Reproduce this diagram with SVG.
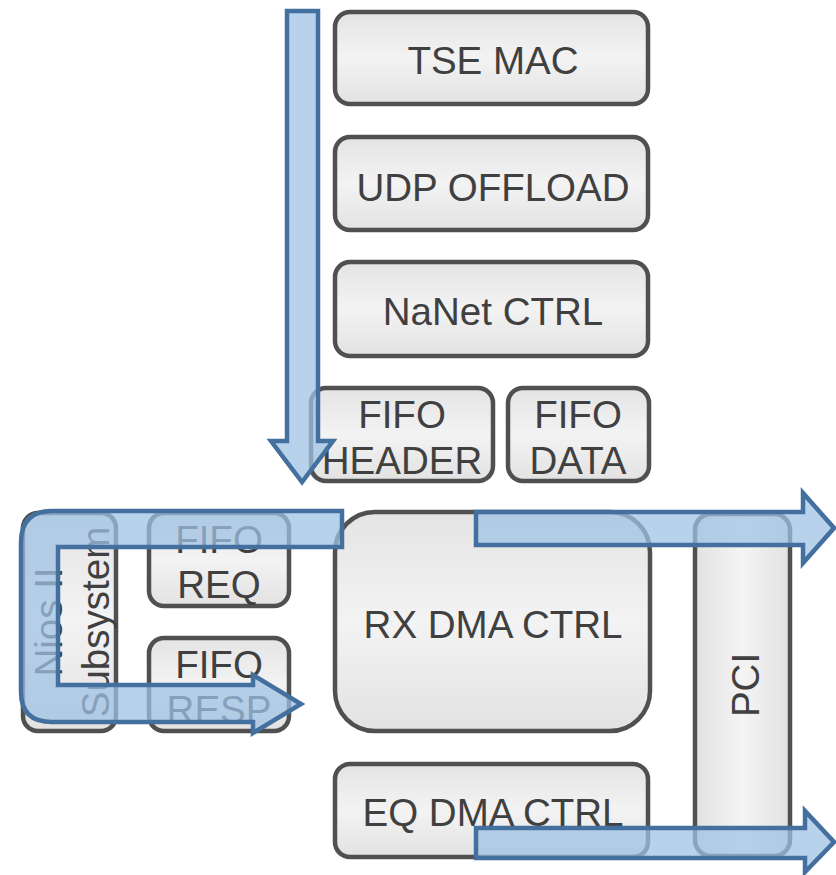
<svg xmlns="http://www.w3.org/2000/svg" width="836" height="875" viewBox="0 0 836 875">
  <defs>
    <linearGradient id="gv" x1="0" y1="0" x2="0" y2="1">
      <stop offset="0" stop-color="#e4e4e4"/>
      <stop offset="0.5" stop-color="#f3f3f3"/>
      <stop offset="1" stop-color="#e2e2e2"/>
    </linearGradient>
    <linearGradient id="gh" x1="0" y1="0" x2="1" y2="0">
      <stop offset="0" stop-color="#e2e2e2"/>
      <stop offset="0.5" stop-color="#f4f4f4"/>
      <stop offset="1" stop-color="#e2e2e2"/>
    </linearGradient>
    <style>
      .box { fill: url(#gv); stroke: #505050; stroke-width: 4.5; }
      .boxh { fill: url(#gh); stroke: #505050; stroke-width: 4.5; }
      .lbl { font-family: "Liberation Sans", Arial, sans-serif; font-size: 38.5px; fill: #404040; text-anchor: middle; }
      .flow { fill: #a0c2e6; fill-opacity: 0.74; stroke: #44709f; stroke-width: 4.5; stroke-linejoin: miter; }
    </style>
  </defs>
  <rect width="836" height="875" fill="#ffffff"/>

  <g id="tse-mac">
    <rect class="box" x="335" y="12" width="313" height="92" rx="15"/>
    <text class="lbl" x="493" y="74">TSE MAC</text>
  </g>
  <g id="udp-offload">
    <rect class="box" x="335" y="137" width="313" height="93" rx="15"/>
    <text class="lbl" x="493" y="201">UDP OFFLOAD</text>
  </g>
  <g id="nanet-ctrl">
    <rect class="box" x="335" y="262" width="313" height="94" rx="15"/>
    <text class="lbl" x="493" y="325">NaNet CTRL</text>
  </g>
  <g id="fifo-header">
    <rect class="box" x="311" y="388" width="182" height="93" rx="15"/>
    <text class="lbl" x="402" y="428">FIFO</text>
    <text class="lbl" x="402" y="474">HEADER</text>
  </g>
  <g id="fifo-data">
    <rect class="box" x="508" y="388" width="141" height="93" rx="15"/>
    <text class="lbl" x="578" y="428">FIFO</text>
    <text class="lbl" x="578" y="474">DATA</text>
  </g>
  <g id="nios-subsystem">
    <rect class="box" x="23" y="513" width="93" height="218" rx="15"/>
    <text class="lbl" transform="translate(62,622) rotate(-90)">Nios II</text>
    <text class="lbl" transform="translate(109,622) rotate(-90)">Subsystem</text>
  </g>
  <g id="fifo-req">
    <rect class="box" x="149" y="513" width="140" height="93" rx="15"/>
    <text class="lbl" x="219" y="553">FIFO</text>
    <text class="lbl" x="219" y="598">REQ</text>
  </g>
  <g id="fifo-resp">
    <rect class="box" x="149" y="638" width="140" height="93" rx="15"/>
    <text class="lbl" x="219" y="678">FIFO</text>
    <text class="lbl" x="219" y="723">RESP</text>
  </g>
  <g id="rx-dma-ctrl">
    <rect class="box" x="335" y="512" width="315" height="219" rx="40"/>
    <text class="lbl" x="493" y="638">RX DMA CTRL</text>
  </g>
  <g id="eq-dma-ctrl">
    <rect class="box" x="335" y="764" width="313" height="93" rx="15"/>
    <text class="lbl" x="493" y="826">EQ DMA CTRL</text>
  </g>
  <g id="pci">
    <rect class="boxh" x="695" y="514" width="95" height="342" rx="16"/>
    <text class="lbl" transform="translate(759,685) rotate(-90)">PCI</text>
  </g>

  <g id="connectors">
    <!-- incoming stream down through the network stack -->
    <path class="flow" d="M287 11 L318 11 L318 441 L333 441 L302 482 L271 441 L287 441 Z"/>
    <!-- Nios II request / response loop -->
    <path class="flow" d="M342 511 L52 511 Q21 511 21 542 L21 692 Q21 722 52 722 L253 722 L253 733 L301 704 L253 675 L253 685 L58 685 L58 547 L342 547 Z"/>
    <!-- RX DMA to PCI -->
    <path class="flow" d="M476 512 L803 512 L803 493 L834 528 L803 563 L803 545 L476 545 Z"/>
    <!-- EQ DMA to PCI -->
    <path class="flow" d="M476 828 L805 828 L805 811 L834 842 L805 872 L805 858 L476 858 Z"/>
  </g>
</svg>
